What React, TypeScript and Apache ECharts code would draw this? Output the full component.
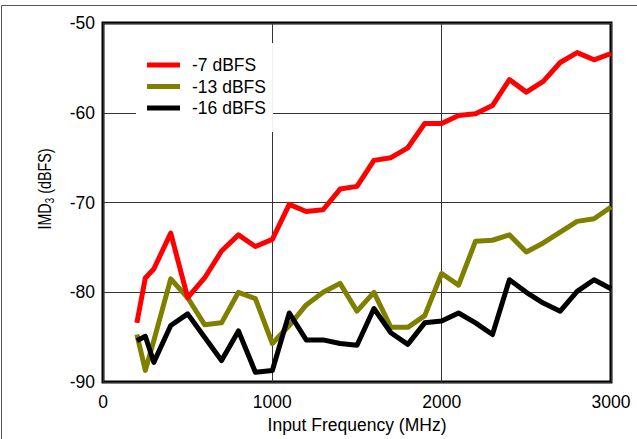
import React, { useEffect, useRef } from "react";
import * as echarts from "echarts";

const freqs = [200, 250, 300, 400, 500, 600, 700, 800, 900, 1000, 1100, 1200, 1300, 1400, 1500, 1600, 1700, 1800, 1900, 2000, 2100, 2200, 2300, 2400, 2500, 2600, 2700, 2800, 2900, 3000];

const imd7 = [-83.4, -78.4, -77.4, -73.4, -80.6, -78.4, -75.4, -73.6, -74.9, -74.1, -70.2, -71.0, -70.8, -68.5, -68.2, -65.3, -65.0, -63.9, -61.2, -61.2, -60.3, -60.1, -59.2, -56.3, -57.7, -56.5, -54.4, -53.3, -54.1, -53.4];
const imd13 = [-84.7, -88.7, -85.4, -78.5, -80.6, -83.6, -83.4, -80.0, -80.7, -85.7, -83.7, -81.4, -80.0, -79.0, -82.1, -80.0, -83.9, -83.9, -82.6, -77.9, -79.2, -74.3, -74.2, -73.6, -75.5, -74.5, -73.3, -72.1, -71.8, -70.5];
const imd16 = [-85.4, -84.9, -87.8, -83.7, -82.4, -85.0, -87.6, -84.3, -88.9, -88.7, -82.3, -85.3, -85.3, -85.7, -85.9, -81.8, -84.5, -85.8, -83.4, -83.2, -82.3, -83.4, -84.7, -78.6, -80.0, -81.2, -82.1, -79.9, -78.6, -79.6];

const seriesNames = ["-7 dBFS", "-13 dBFS", "-16 dBFS"];
const seriesColors = ["#ff0000", "#808000", "#000000"];
const seriesValues = [imd7, imd13, imd16];

const xAxisTitle = "Input Frequency (MHz)";
const FONT = "'Liberation Sans', Arial, Helvetica, sans-serif";

export default function App() {
  const ref = useRef<HTMLDivElement>(null);
  useEffect(() => {
    if (!ref.current) return;
    const chart = echarts.init(ref.current, null, { renderer: "svg" });
    const series = seriesNames.map((name, i) => ({
      name,
      type: "line",
      data: freqs.map((f, j) => [f, seriesValues[i][j]]),
      showSymbol: false,
      symbol: "none",
      z: i === 0 ? 4 : 3,
      lineStyle: { color: seriesColors[i], width: 5, join: "round" },
      itemStyle: { color: seriesColors[i] },
    }));
    chart.setOption({
      animation: false,
      backgroundColor: "#fff",
      textStyle: { fontFamily: FONT },
      grid: {
        left: 103,
        right: 26,
        top: 23,
        bottom: 56,
        show: true,
        borderColor: "#000",
        borderWidth: 3,
        backgroundColor: "transparent",
      },
      legend: {
        orient: "vertical",
        left: 136,
        top: 43,
        backgroundColor: "#fff",
        padding: [13, 7, 15, 11],
        itemWidth: 33,
        itemHeight: 5,
        itemGap: 3.5,
        data: seriesNames.map((n) => ({ name: n, icon: "rect" })),
        textStyle: { fontSize: 17.5, color: "#000", fontFamily: FONT, padding: [0, 0, 0, 7], lineHeight: 18 },
      },
      xAxis: {
        type: "value",
        min: 0,
        max: 3000,
        interval: 1000,
        name: xAxisTitle,
        nameLocation: "middle",
        nameGap: 33,
        nameTextStyle: { fontSize: 17.5, color: "#000", fontFamily: FONT },
        axisLine: { show: false },
        axisTick: { show: false },
        axisLabel: { fontSize: 17.5, color: "#000", margin: 11, fontFamily: FONT, formatter: (v: number) => String(v) },
        splitLine: { show: true, lineStyle: { color: "#333", width: 1 } },
      },
      yAxis: {
        type: "value",
        min: -90,
        max: -50,
        interval: 10,
        axisLine: { show: false },
        axisTick: { show: false },
        axisLabel: { fontSize: 17.5, color: "#000", margin: 8, fontFamily: FONT, formatter: (v: number) => String(v) },
        splitLine: { show: true, lineStyle: { color: "#333", width: 1 } },
      },
      graphic: [
        {
          type: "rect",
          silent: true,
          z: -10,
          shape: { x: 1.5, y: 5.5, width: 700, height: 500 },
          style: { fill: "none", stroke: "#555", lineWidth: 1 },
        },
        {
          type: "text",
          x: 45,
          y: 189,
          rotation: Math.PI / 2,
          scaleX: 0.82,
          style: {
            text: "{a|IMD}{b|3}{a| (dBFS)}",
            align: "center",
            verticalAlign: "middle",
            fill: "#000",
            fontFamily: FONT,
            fontSize: 17.5,
            rich: {
              a: { fontSize: 17.5, fontFamily: FONT, fill: "#000" },
              b: { fontSize: 12, fontFamily: FONT, fill: "#000", padding: [10, 0, 0, 0] },
            },
          },
        },
      ],
      series,
    });
    return () => chart.dispose();
  }, []);
  return (
    <div
      ref={ref}
      style={{ position: "absolute", left: 0, top: 0, width: 637, height: 439 }}
    />
  );
}
